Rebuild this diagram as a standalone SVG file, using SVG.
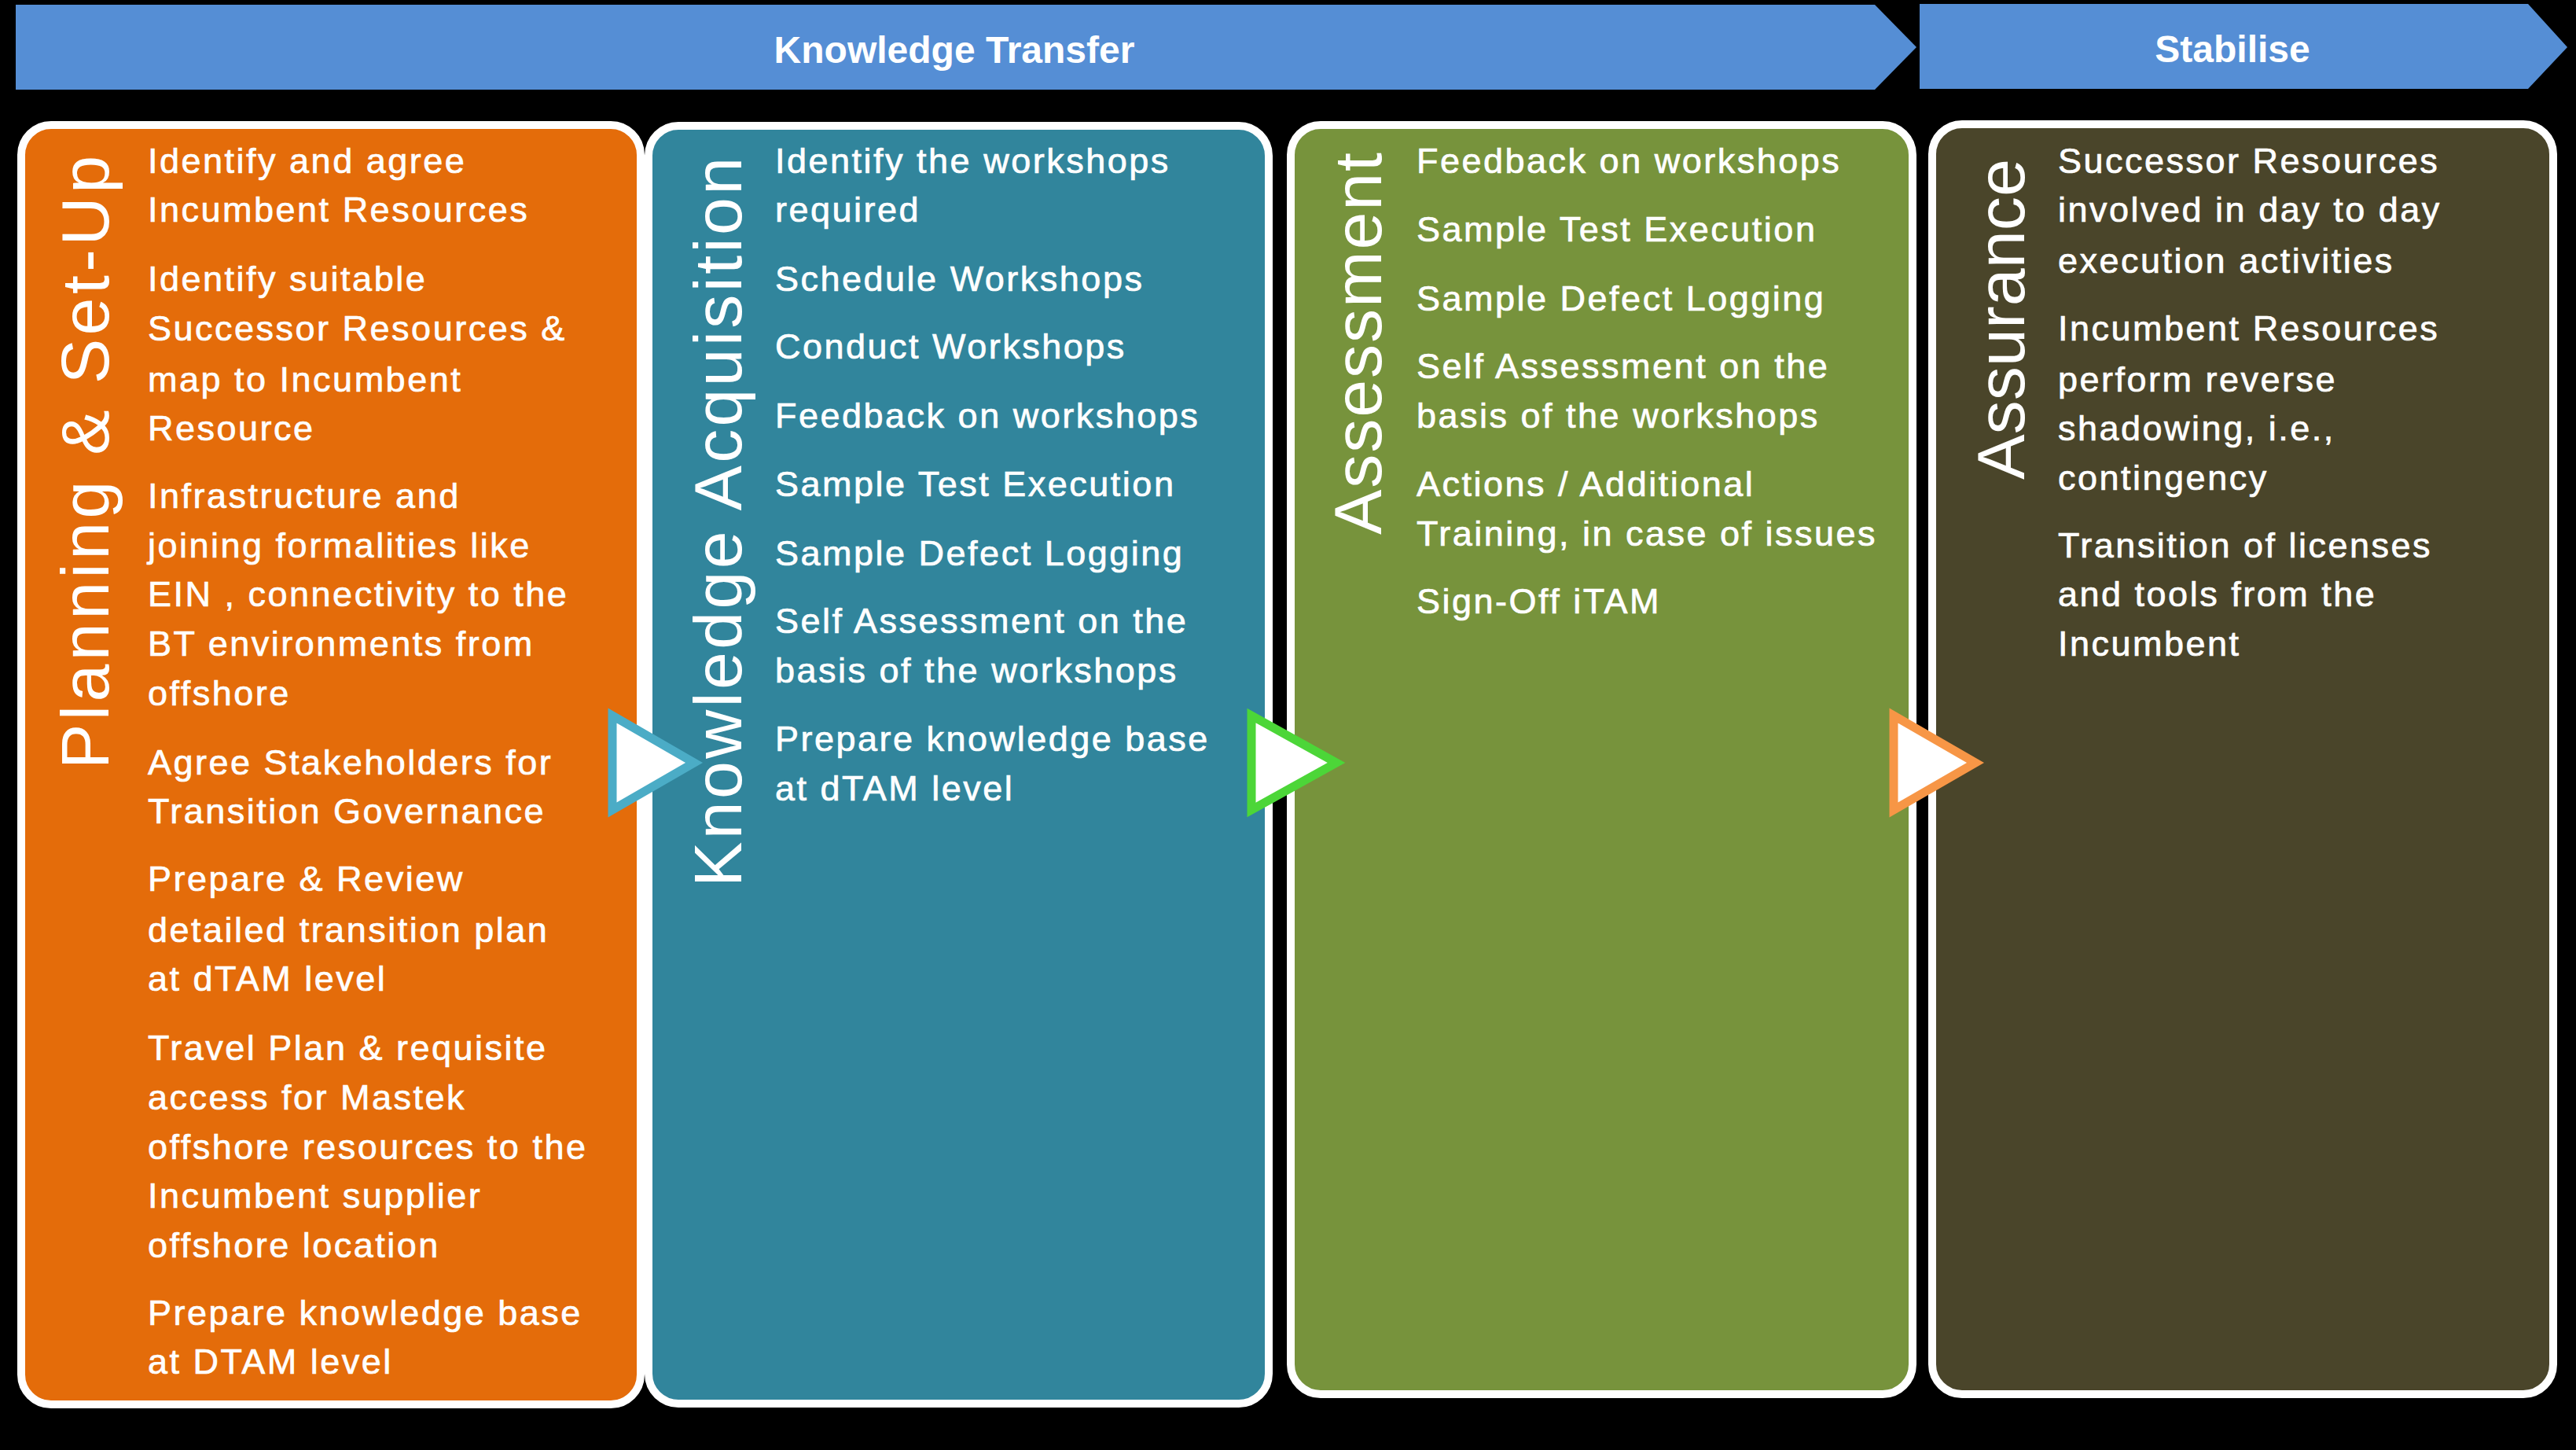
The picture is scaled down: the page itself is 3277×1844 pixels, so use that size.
<svg xmlns="http://www.w3.org/2000/svg" width="3277" height="1844" viewBox="0 0 3277 1844">
<style>
.banner{fill:#558ED5}
.htxt{font-family:"Liberation Sans",Arial,sans-serif;font-weight:bold;font-size:48px;fill:#fff;text-anchor:middle}
.col{stroke:#fff;stroke-width:10}
.title{font-family:"Liberation Sans",Arial,sans-serif;font-size:86px;fill:#fff}
.body{font-family:"Liberation Sans",Arial,sans-serif;font-size:45px;letter-spacing:2.5px;fill:#fff;stroke:#fff;stroke-width:0.7px}
.tri{fill:#fff;stroke-width:11;stroke-linejoin:miter}
</style>
<rect x="0" y="0" width="3277" height="1844" fill="#000"/>
<g id="banner-knowledge-transfer">
<polygon class="banner" points="20,6 2385,6 2438,60 2385,114 20,114"/>
<text class="htxt" x="1214" y="80">Knowledge Transfer</text>
</g>
<g id="banner-stabilise">
<polygon class="banner" points="2442,5 3216,5 3266,60 3216,113 2442,113"/>
<text class="htxt" x="2840" y="79">Stabilise</text>
</g>
<g id="planning-setup">
<rect class="col" x="27" y="159" width="788" height="1627" rx="38" fill="#E46C0A"/>
<text class="title" x="138" y="978" transform="rotate(-90 138 978)" textLength="780" lengthAdjust="spacing">Planning &amp; Set-Up</text>
<g class="body">
<text x="188" y="220">Identify and agree</text>
<text x="188" y="282">Incumbent Resources</text>
<text x="188" y="370">Identify suitable</text>
<text x="188" y="433">Successor Resources &amp;</text>
<text x="188" y="498">map to Incumbent</text>
<text x="188" y="560">Resource</text>
<text x="188" y="646">Infrastructure and</text>
<text x="188" y="709">joining formalities like</text>
<text x="188" y="771">EIN , connectivity to the</text>
<text x="188" y="834">BT environments from</text>
<text x="188" y="897">offshore</text>
<text x="188" y="985">Agree Stakeholders for</text>
<text x="188" y="1047">Transition Governance</text>
<text x="188" y="1133">Prepare &amp; Review</text>
<text x="188" y="1198">detailed transition plan</text>
<text x="188" y="1260">at dTAM level</text>
<text x="188" y="1348">Travel Plan &amp; requisite</text>
<text x="188" y="1411">access for Mastek</text>
<text x="188" y="1474">offshore resources to the</text>
<text x="188" y="1536">Incumbent supplier</text>
<text x="188" y="1599">offshore location</text>
<text x="188" y="1685">Prepare knowledge base</text>
<text x="188" y="1747">at DTAM level</text>
</g>
</g>
<g id="knowledge-acquisition">
<rect class="col" x="825" y="160" width="789" height="1625" rx="38" fill="#31859C"/>
<text class="title" x="943" y="1128" transform="rotate(-90 943 1128)" textLength="928" lengthAdjust="spacing">Knowledge Acquisition</text>
<g class="body">
<text x="986" y="220">Identify the workshops</text>
<text x="986" y="282">required</text>
<text x="986" y="370">Schedule Workshops</text>
<text x="986" y="456">Conduct Workshops</text>
<text x="986" y="544">Feedback on workshops</text>
<text x="986" y="631">Sample Test Execution</text>
<text x="986" y="719">Sample Defect Logging</text>
<text x="986" y="805">Self Assessment on the</text>
<text x="986" y="868">basis of the workshops</text>
<text x="986" y="955">Prepare knowledge base</text>
<text x="986" y="1018">at dTAM level</text>
</g>
</g>
<g id="assessment">
<rect class="col" x="1642" y="159" width="791" height="1614" rx="38" fill="#77933C"/>
<text class="title" x="1757" y="680" transform="rotate(-90 1757 680)" textLength="486" lengthAdjust="spacing">Assessment</text>
<g class="body">
<text x="1802" y="220">Feedback on workshops</text>
<text x="1802" y="307">Sample Test Execution</text>
<text x="1802" y="395">Sample Defect Logging</text>
<text x="1802" y="481">Self Assessment on the</text>
<text x="1802" y="544">basis of the workshops</text>
<text x="1802" y="631">Actions / Additional</text>
<text x="1802" y="694">Training, in case of issues</text>
<text x="1802" y="780">Sign-Off iTAM</text>
</g>
</g>
<g id="assurance">
<rect class="col" x="2458" y="158" width="790" height="1615" rx="38" fill="#4A452A"/>
<text class="title" x="2575" y="610" transform="rotate(-90 2575 610)" textLength="408" lengthAdjust="spacingAndGlyphs">Assurance</text>
<g class="body">
<text x="2618" y="220">Successor Resources</text>
<text x="2618" y="282">involved in day to day</text>
<text x="2618" y="347">execution activities</text>
<text x="2618" y="433">Incumbent Resources</text>
<text x="2618" y="498">perform reverse</text>
<text x="2618" y="560">shadowing, i.e.,</text>
<text x="2618" y="623">contingency</text>
<text x="2618" y="709">Transition of licenses</text>
<text x="2618" y="771">and tools from the</text>
<text x="2618" y="834">Incumbent</text>
</g>
</g>
<g id="connectors">
<polygon class="tri" stroke="#4BACC6" points="779,910 883,970 779,1030"/>
<polygon class="tri" stroke="#4CD638" points="1592,910 1700,970 1592,1030"/>
<polygon class="tri" stroke="#F79646" points="2409,910 2513,970 2409,1030"/>
</g>
</svg>
